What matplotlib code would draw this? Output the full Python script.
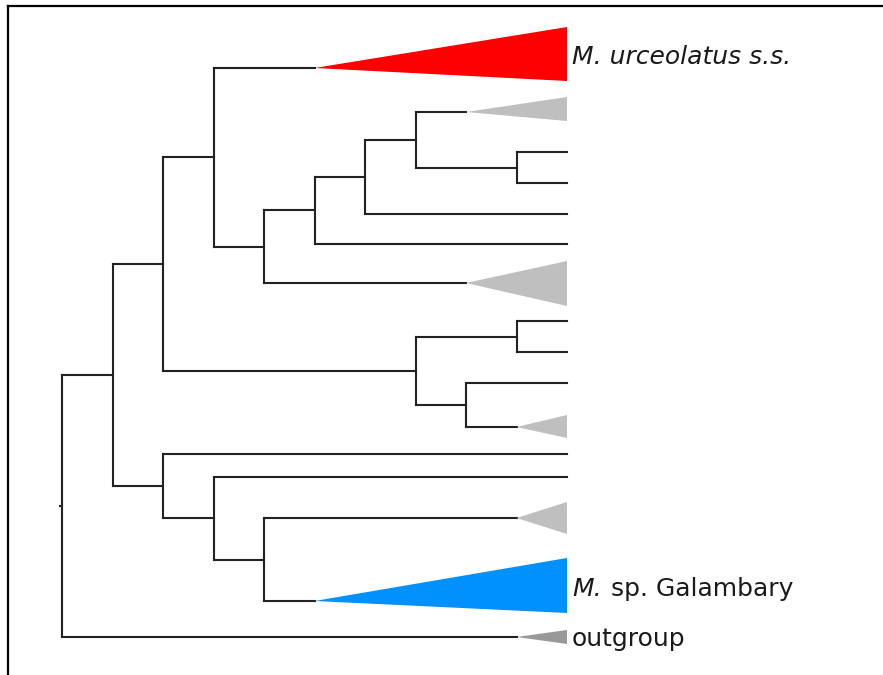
import numpy as np
import matplotlib
matplotlib.use('Agg')
import matplotlib.pyplot as plt

# collapsed clades (triangles): attach row, apex depth, base extent, colour
clade_names = ['urceolatus', 'clade_a', 'clade_b', 'clade_c', 'clade_d', 'galambary', 'outgroup']
clade_y = [68, 112, 283, 427, 518, 601, 637]
clade_apex = [5, 8, 8, 9, 9, 5, 9]
clade_top = [27, 97, 261, 415, 502, 558, 630]
clade_bottom = [81, 121, 306, 438, 534, 613, 644]
clade_colors = ['#ff0000', '#bfbfbf', '#bfbfbf', '#bfbfbf', '#bfbfbf', '#0091ff', '#999999']

# single terminal taxa (plain lines to the tip)
tip_names = ['t1', 't2', 't3', 't4', 't5', 't6', 't7', 't8', 't9']
tip_y = [152, 183, 214, 244, 321, 352, 383, 454, 477]

TIP_DEPTH = 10

# topology: (node depth, [children])
tree = (0, [
    'outgroup',
    (1, [
        (2, [
            (3, ['urceolatus',
                 (4, [(5, [(6, [(7, ['clade_a', (9, ['t1', 't2'])]), 't3']), 't4']),
                      'clade_b'])]),
            (7, [(9, ['t5', 't6']), (8, ['t7', 'clade_c'])]),
        ]),
        (2, ['t8', (3, ['t9', (4, ['clade_d', 'galambary'])])]),
    ]),
])

leaf_y = dict(zip(tip_names, tip_y))
leaf_end = {n: TIP_DEPTH for n in tip_names}
for n, y, a in zip(clade_names, clade_y, clade_apex):
    leaf_y[n] = y
    leaf_end[n] = a

line_kw = dict(color='#222222', lw=1.5, capstyle='projecting', zorder=2)

# figure / frame axes (only left and top border drawn)
px = 50.5  # pixels per depth level
x0 = 62
fig = plt.figure(figsize=(8.83, 6.75), dpi=100)
ax = fig.add_axes([8 / 883, 0, 875 / 883, 669 / 675])
ax.set_xlim((8 - x0) / px, (883 - x0) / px)
ax.set_ylim(675, 6)
ax.set_xticks([])
ax.set_yticks([])
for s in ['right', 'bottom']:
    ax.spines[s].set_visible(False)
for s in ['left', 'top']:
    ax.spines[s].set_linewidth(1.6)
    ax.spines[s].set_color('black')


def draw(node, parent_depth):
    if isinstance(node, str):
        y = leaf_y[node]
        ax.hlines(y, parent_depth, leaf_end[node], **line_kw)
        return y
    d, children = node
    ys = [draw(c, d) for c in children]
    ax.vlines(d, min(ys), max(ys), **line_kw)
    y = (min(ys) + max(ys)) / 2
    ax.hlines(y, parent_depth, d, **line_kw)
    return y


draw(tree, -0.04)

for y, a, t, b, c in zip(clade_y, clade_apex, clade_top, clade_bottom, clade_colors):
    ax.fill([a, TIP_DEPTH, TIP_DEPTH], [y, t, b], color=c, lw=0, zorder=3)

txt = dict(fontsize=18, color='#1a1a1a', va='baseline', ha='left',
           textcoords='offset points')
ax.annotate('M. urceolatus s.s.', xy=(TIP_DEPTH, 64), xytext=(3.5, 0),
            fontstyle='italic', **txt)
ax.annotate('M.', xy=(TIP_DEPTH, 596), xytext=(3.5, 0), fontstyle='italic', **txt)
ax.annotate('sp. Galambary', xy=(TIP_DEPTH, 596), xytext=(31.5, 0), **txt)
ax.annotate('outgroup', xy=(TIP_DEPTH, 646), xytext=(3.5, 0), **txt)

fig.savefig('out.png', dpi=100)
